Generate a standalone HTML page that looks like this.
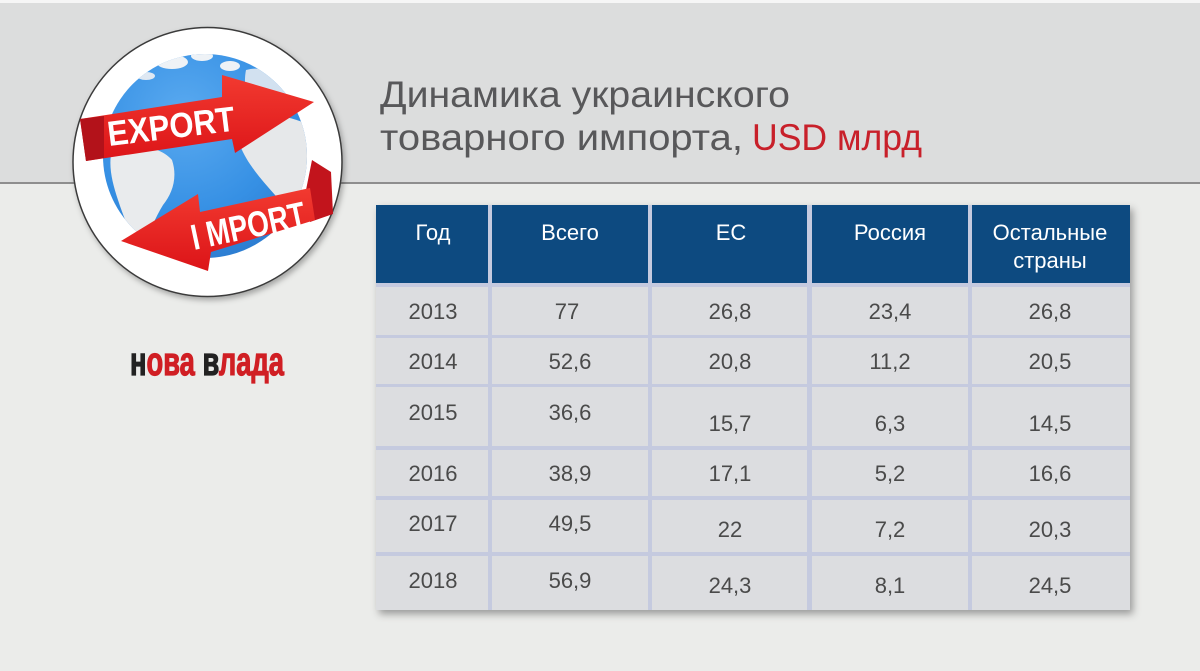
<!DOCTYPE html>
<html>
<head>
<meta charset="utf-8">
<style>
  html,body{margin:0;padding:0;background:#ebecea;}
  svg{display:block;}
  text{font-family:"Liberation Sans","DejaVu Sans",sans-serif;}
</style>
</head>
<body>
<svg width="1200" height="671" viewBox="0 0 1200 671" xmlns="http://www.w3.org/2000/svg">
  <defs>
    <filter id="tshadow" x="-5%" y="-5%" width="115%" height="120%">
      <feDropShadow dx="3" dy="4" stdDeviation="4" flood-color="#000" flood-opacity="0.35"/>
    </filter>
    <filter id="cshadow" x="-10%" y="-10%" width="125%" height="125%">
      <feDropShadow dx="2" dy="3" stdDeviation="3" flood-color="#000" flood-opacity="0.3"/>
    </filter>
    <radialGradient id="globeg" cx="0.4" cy="0.3" r="0.8">
      <stop offset="0" stop-color="#5aaaf0"/>
      <stop offset="0.6" stop-color="#3690e4"/>
      <stop offset="1" stop-color="#2a78cc"/>
    </radialGradient>
    <linearGradient id="ribg" x1="0" y1="0" x2="0" y2="1">
      <stop offset="0" stop-color="#f23a30"/>
      <stop offset="1" stop-color="#dc1418"/>
    </linearGradient>
    <clipPath id="gclip"><circle cx="205" cy="156" r="102"/></clipPath>
  </defs>

  <!-- backgrounds -->
  <rect x="0" y="0" width="1200" height="671" fill="#ebecea"/>
  <rect x="0" y="0" width="1200" height="3" fill="#f6f6f6"/>
  <rect x="0" y="3" width="1200" height="179" fill="#dcdddd"/>
  <rect x="0" y="182" width="1200" height="2" fill="#8e8e8e"/>

  <!-- Title -->
  <text x="380" y="107" font-size="37" fill="#58585a" textLength="410" lengthAdjust="spacingAndGlyphs">Динамика украинского</text>
  <text x="380" y="150" font-size="37" fill="#58585a" textLength="363" lengthAdjust="spacingAndGlyphs">товарного импорта,</text>
  <text x="752" y="150" font-size="37" fill="#c8202a" textLength="170" lengthAdjust="spacingAndGlyphs">USD млрд</text>

  <!-- Logo circle -->
  <circle cx="207.5" cy="162" r="134.5" fill="#ffffff" stroke="#3a3a3a" stroke-width="1.5" filter="url(#cshadow)"/>
  <circle cx="205" cy="156" r="102" fill="url(#globeg)"/>
  <g clip-path="url(#gclip)">
    <!-- South America (light) -->
    <path d="M112,150 C132,142 160,146 172,160 C178,178 172,194 163,205 C155,218 150,232 142,246 C132,240 124,218 118,200 C112,182 108,165 112,150 Z" fill="#e9ebed"/>
    <!-- Africa / right -->
    <path d="M238,122 C262,110 302,116 318,132 L318,220 C302,222 288,208 275,195 C260,178 246,162 240,145 Z" fill="#e6e8ea"/>
    <!-- top right light -->
    <path d="M246,70 C268,64 292,78 304,100 C298,116 280,122 262,120 C250,110 242,90 246,70 Z" fill="#d2e1f0"/>
    <!-- top islands -->
    <ellipse cx="172" cy="62" rx="16" ry="7" fill="#eef2f6"/>
    <ellipse cx="202" cy="56" rx="11" ry="5" fill="#eef2f6"/>
    <ellipse cx="230" cy="66" rx="10" ry="5" fill="#eef2f6"/>
    <ellipse cx="146" cy="76" rx="9" ry="4" fill="#dfe8f2"/>
  </g>

  <!-- EXPORT ribbon -->
  <path d="M80,119 L222,97 L222,75 L314,102 L235,153 L232,139 L86,161 Z" fill="url(#ribg)"/>
  <path d="M80,119 L104,116 L104,158 L86,161 Z" fill="#b3121a"/>
  <text x="109" y="146" font-size="35" font-weight="bold" fill="#ffffff" textLength="128" lengthAdjust="spacingAndGlyphs" transform="rotate(-7 109 146)">EXPORT</text>

  <!-- IMPORT ribbon -->
  <path d="M306,190 L312,160 L331,172 L333,214 L310,222 Z" fill="#c2141c"/>
  <path d="M121,241 L198,194 L200,212 L310,188 L315,220 L211,252 L208,271 Z" fill="url(#ribg)"/>
  <text x="194" y="250" font-size="36" font-weight="bold" fill="#ffffff" textLength="116" lengthAdjust="spacingAndGlyphs" transform="rotate(-12 194 250)">I MPORT</text>

  <!-- нова влада -->
  <text x="130" y="375" font-size="40" font-weight="bold" textLength="154" lengthAdjust="spacingAndGlyphs" stroke-width="1.2"><tspan fill="#222222" stroke="#222222">н</tspan><tspan fill="#d01f24" stroke="#d01f24">ова </tspan><tspan fill="#222222" stroke="#222222">в</tspan><tspan fill="#d01f24" stroke="#d01f24">лада</tspan></text>

  <!-- Table -->
  <rect x="376" y="205" width="754" height="405" fill="#c5cadf" filter="url(#tshadow)"/>
  <!-- header cells -->
  <g fill="#0d4a80">
    <rect x="376" y="205" width="112" height="78"/>
    <rect x="492" y="205" width="156" height="78"/>
    <rect x="652" y="205" width="155" height="78"/>
    <rect x="812" y="205" width="156" height="78"/>
    <rect x="972" y="205" width="158" height="78"/>
  </g>
  <!-- body cells -->
  <g fill="#dcdde0">
    <rect x="376" y="287" width="112" height="48"/><rect x="492" y="287" width="156" height="48"/><rect x="652" y="287" width="155" height="48"/><rect x="812" y="287" width="156" height="48"/><rect x="972" y="287" width="158" height="48"/>
    <rect x="376" y="338" width="112" height="46"/><rect x="492" y="338" width="156" height="46"/><rect x="652" y="338" width="155" height="46"/><rect x="812" y="338" width="156" height="46"/><rect x="972" y="338" width="158" height="46"/>
    <rect x="376" y="387" width="112" height="59"/><rect x="492" y="387" width="156" height="59"/><rect x="652" y="387" width="155" height="59"/><rect x="812" y="387" width="156" height="59"/><rect x="972" y="387" width="158" height="59"/>
    <rect x="376" y="450" width="112" height="46"/><rect x="492" y="450" width="156" height="46"/><rect x="652" y="450" width="155" height="46"/><rect x="812" y="450" width="156" height="46"/><rect x="972" y="450" width="158" height="46"/>
    <rect x="376" y="500" width="112" height="52"/><rect x="492" y="500" width="156" height="52"/><rect x="652" y="500" width="155" height="52"/><rect x="812" y="500" width="156" height="52"/><rect x="972" y="500" width="158" height="52"/>
    <rect x="376" y="556" width="112" height="54"/><rect x="492" y="556" width="156" height="54"/><rect x="652" y="556" width="155" height="54"/><rect x="812" y="556" width="156" height="54"/><rect x="972" y="556" width="158" height="54"/>
  </g>

  <!-- header text -->
  <g font-size="22" fill="#ffffff" text-anchor="middle">
    <text x="433" y="240">Год</text>
    <text x="570" y="240">Всего</text>
    <text x="731" y="240">ЕС</text>
    <text x="890" y="240">Россия</text>
    <text x="1050" y="240">Остальные</text>
    <text x="1050" y="268">страны</text>
  </g>

  <!-- body text -->
  <g font-size="22" fill="#4a4a4a" text-anchor="middle">
    <text x="433" y="319">2013</text>
    <text x="433" y="369">2014</text>
    <text x="433" y="420">2015</text>
    <text x="433" y="481">2016</text>
    <text x="433" y="531">2017</text>
    <text x="433" y="588">2018</text>

    <text x="567" y="319">77</text>
    <text x="570" y="369">52,6</text>
    <text x="570" y="420">36,6</text>
    <text x="570" y="481">38,9</text>
    <text x="570" y="531">49,5</text>
    <text x="570" y="588">56,9</text>

    <text x="730" y="319">26,8</text>
    <text x="730" y="369">20,8</text>
    <text x="730" y="431">15,7</text>
    <text x="730" y="481">17,1</text>
    <text x="730" y="537">22</text>
    <text x="730" y="593">24,3</text>

    <text x="890" y="319">23,4</text>
    <text x="890" y="369">11,2</text>
    <text x="890" y="431">6,3</text>
    <text x="890" y="481">5,2</text>
    <text x="890" y="537">7,2</text>
    <text x="890" y="593">8,1</text>

    <text x="1050" y="319">26,8</text>
    <text x="1050" y="369">20,5</text>
    <text x="1050" y="431">14,5</text>
    <text x="1050" y="481">16,6</text>
    <text x="1050" y="537">20,3</text>
    <text x="1050" y="593">24,5</text>
  </g>
</svg>
</body>
</html>
